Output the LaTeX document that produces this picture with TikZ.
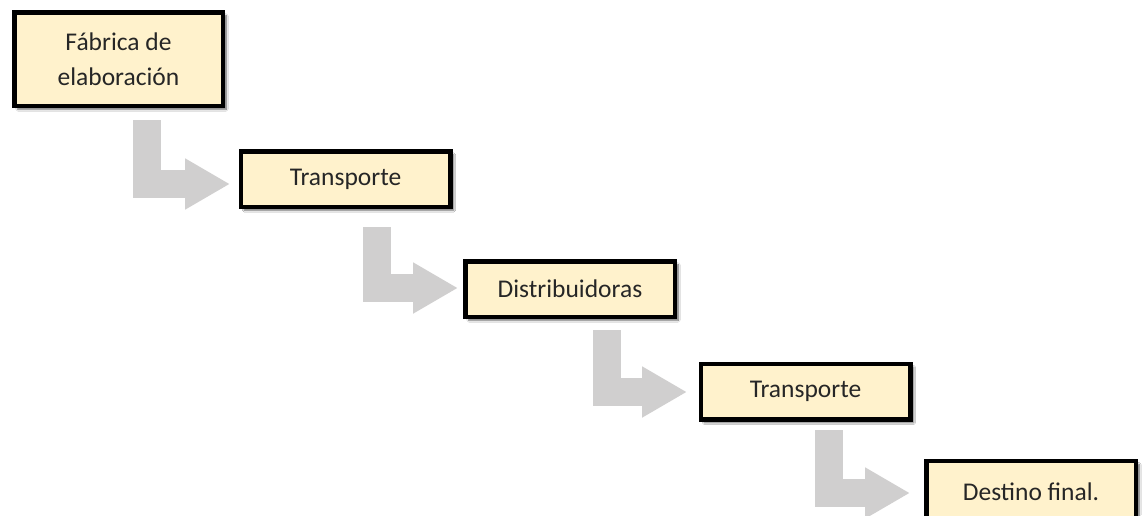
\documentclass[tikz,border=0pt]{standalone}
\usepackage{fontspec}
\setmainfont{Carlito}
\usetikzlibrary{arrows.meta,shadows.blur}
\definecolor{boxfill}{HTML}{FFF2CC}
\definecolor{arrowgray}{HTML}{D0CFCF}
\definecolor{txt}{HTML}{262626}
\tikzset{
  stepbox/.style={draw=black, line width=4.5pt, fill=boxfill, text=txt,
    minimum width=209.5pt, minimum height=55.5pt, inner sep=0pt, align=center,
    font=\fontsize{25.5}{35}\selectfont,
    blur shadow={shadow xshift=3.5pt, shadow yshift=-3.5pt, shadow blur steps=6, shadow opacity=60}},
  bent/.style={draw=arrowgray, line width=28pt, line join=miter, line cap=butt,
    -{Triangle[width=48pt,length=45pt]}}
}
\begin{document}
\begin{tikzpicture}[x=1pt,y=-1pt]
\useasboundingbox (0,0) rectangle (1143,515);
\fill[white] (0,0) rectangle (1143,515);
% connectors
\coordinate (s1) at (147,120); \coordinate (e1) at (230,184);
\coordinate (s2) at (377,227); \coordinate (e2) at (458,288);
\coordinate (s3) at (607,330); \coordinate (e3) at (687,392);
\coordinate (s4) at (829,430); \coordinate (e4) at (910,493);
\draw[bent] (s1) |- (e1);
\draw[bent] (s2) |- (e2);
\draw[bent] (s3) |- (e3);
\draw[bent] (s4) |- (e4);
% boxes
\node[stepbox, minimum width=208.5pt, minimum height=93.5pt] (b1) at (118.5,59) {Fábrica de\\elaboración};
\node[stepbox] (b2) at (345.5,179) {Transporte};
\node[stepbox] (b3) at (570,289) {Distribuidoras};
\node[stepbox] (b4) at (805.5,391.5) {Transporte};
\node[stepbox, minimum height=62pt] (b5) at (1031,492) {Destino final.};
\end{tikzpicture}
\end{document}
